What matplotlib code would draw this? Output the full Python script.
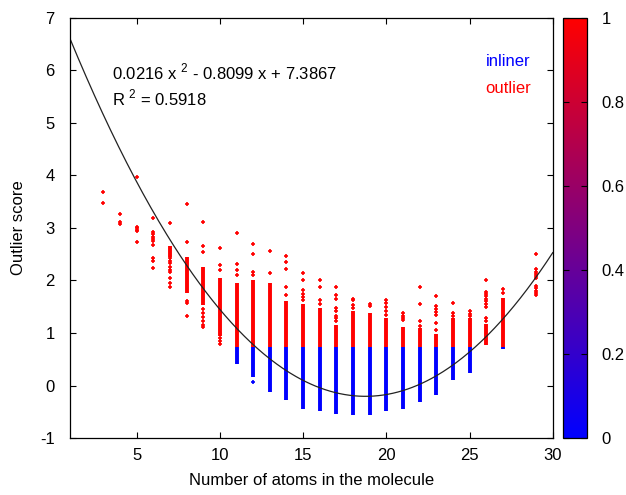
import numpy as np
import matplotlib
matplotlib.use("Agg")
import matplotlib.pyplot as plt
from matplotlib.colors import LinearSegmentedColormap, Normalize
from matplotlib.cm import ScalarMappable

plt.rcParams["font.family"] = ["Liberation Sans", "DejaVu Sans"]
plt.rcParams["mathtext.fontset"] = "custom"
plt.rcParams["mathtext.rm"] = "Liberation Sans"
plt.rcParams["axes.unicode_minus"] = False

# columns: number of atoms
atoms = [3, 4, 5, 6, 7, 8, 9, 10, 11, 12, 13, 14, 15, 16, 17, 18, 19, 20,
         21, 22, 23, 24, 25, 26, 27, 29]
nan = np.nan
# dense red stacks (low, high)
red_lo = [nan, nan, nan, nan, 2.45, 1.76, 1.53, 0.95, 0.74, 0.74, 0.74, 0.74, 0.74,
          0.74, 0.74, 0.74, 0.74, 0.74, 0.74, 0.74, 0.74, 0.74, 0.74, 0.77, 0.73, nan]
red_hi = [nan, nan, nan, nan, 2.66, 2.44, 2.25, 2.05, 1.95, 2.01, 1.96, 1.60, 1.55,
          1.47, 1.15, 1.41, 1.39, 1.28, 1.12, 1.09, 0.99, 1.28, 1.28, 1.17, 1.66, nan]
# dense blue stacks (low, high)
blue_lo = [nan, nan, nan, nan, nan, nan, nan, nan, 0.41, 0.17, -0.12, -0.28, -0.45,
           -0.49, -0.55, -0.57, -0.57, -0.49, -0.45, -0.32, -0.18, 0.10, 0.23, nan, 0.69, nan]
blue_hi = [nan, nan, nan, nan, nan, nan, nan, nan, 0.74, 0.74, 0.74, 0.74, 0.74,
           0.74, 0.74, 0.74, 0.74, 0.74, 0.74, 0.74, 0.74, 0.74, 0.74, nan, 0.73, nan]
# isolated outlier points
red_points = [
    [3.68, 3.47],
    [3.27, 3.12, 3.08],
    [3.97, 3.02, 3.0, 2.97, 2.95, 2.73],
    [3.18, 2.93, 2.89, 2.83, 2.79, 2.75, 2.68, 2.42, 2.38, 2.24],
    [3.09, 2.42, 2.38, 2.33, 2.26, 2.2, 2.17, 2.04, 1.95, 1.87],
    [3.45, 2.73, 1.6, 1.57, 1.33],
    [3.12, 2.66, 2.55, 1.45, 1.38, 1.3, 1.22, 1.16, 1.12],
    [2.61, 2.3, 2.2, 0.9, 0.85, 0.8],
    [2.91, 2.31, 2.2, 2.1],
    [2.69, 2.5, 2.17, 2.1],
    [2.57, 2.14],
    [2.47, 2.35, 2.22, 1.87, 1.72],
    [2.15, 2.01, 1.82, 1.75, 1.69, 1.63],
    [2.0, 1.88, 1.63, 1.55],
    [1.87, 1.72, 1.64, 1.47, 1.42, 1.33, 1.28, 1.22],
    [1.65, 1.62, 1.53, 1.47],
    [1.55, 1.51],
    [1.63, 1.58, 1.5, 1.42, 1.35],
    [1.39, 1.33, 1.28, 1.25],
    [1.87, 1.55, 1.22, 1.13],
    [1.71, 1.51, 1.45, 1.4, 1.34, 1.2, 1.06],
    [1.58, 1.39, 1.33],
    [1.42, 1.36, 1.32],
    [2.01, 1.79, 1.75, 1.7, 1.65, 1.6, 1.55, 1.5, 1.28, 1.22],
    [1.83, 1.76],
    [2.5, 2.21, 2.17, 2.12, 2.08, 2.04, 1.9, 1.85, 1.8, 1.76, 1.72],
]
blue_points = {12: [0.07]}
# quadratic fit shown in the chart
fit_coef = [0.0216, -0.8099, 7.3867]
r_squared = 0.5918

fig = plt.figure(figsize=(6.26, 4.95), dpi=100)
ax = fig.add_axes([0.112, 0.115, 0.771, 0.849])
cax = fig.add_axes([0.899, 0.115, 0.038, 0.849])

ax.vlines(atoms, red_lo, red_hi, color="#ff0000", lw=2.8)
ax.vlines(atoms, blue_lo, blue_hi, color="#0000ff", lw=2.8)
for x, ys in zip(atoms, red_points):
    ax.plot([x] * len(ys), ys, "+", color="#ff0000", ms=3.4, mew=1.2)
for x, ys in blue_points.items():
    ax.plot([x] * len(ys), ys, "+", color="#0000ff", ms=3.4, mew=1.2)

xf = np.linspace(1, 30, 300)
ax.plot(xf, np.polyval(fit_coef, xf), color="#222222", lw=0.9)

fs = 12
ax.text(3.5, 5.97, "0.0216 x $^{2}$ - 0.8099 x + 7.3867", fontsize=fs, va="center")
ax.text(3.5, 5.48, "R $^{2}$ = %.4f" % r_squared, fontsize=fs, va="center")
ax.text(0.954, 0.895, "inliner", color="#0000ff", fontsize=fs, ha="right",
        va="center", transform=ax.transAxes)
ax.text(0.954, 0.833, "outlier", color="#ff0000", fontsize=fs, ha="right",
        va="center", transform=ax.transAxes)

ax.set_xlim(1, 30)
ax.set_ylim(-1, 7)
ax.set_xticks([5, 10, 15, 20, 25, 30])
ax.set_yticks(range(-1, 8))
ax.tick_params(direction="in", length=4, width=0.8, top=True, right=True,
               labelsize=fs)
ax.tick_params(axis="y", pad=11)
ax.tick_params(axis="x", pad=7)
ax.set_xlabel("Number of atoms in the molecule", fontsize=fs, labelpad=7)
ax.set_ylabel("Outlier score", fontsize=fs, labelpad=10)
for s in ax.spines.values():
    s.set_linewidth(0.9)

cmap = LinearSegmentedColormap.from_list("br", ["#0000ff", "#ff0000"])
cb = fig.colorbar(ScalarMappable(norm=Normalize(0, 1), cmap=cmap), cax=cax)
cb.set_ticks([0, 0.2, 0.4, 0.6, 0.8, 1])
cb.set_ticklabels(["0", "0.2", "0.4", "0.6", "0.8", "1"])
cax.tick_params(direction="in", length=4, width=0.8, left=True, right=True,
                labelsize=fs, pad=11)
cb.outline.set_linewidth(0.9)

plt.savefig("out.png", dpi=100)
